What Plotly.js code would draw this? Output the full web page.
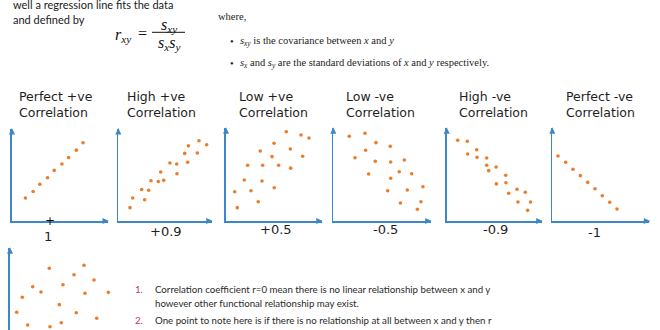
<!DOCTYPE html>
<html>
<head>
<meta charset="utf-8">
<script src="https://cdn.plot.ly/plotly-3.0.1.min.js"></script>
<style>html,body{margin:0;padding:0;background:#fff;}#chart{width:660px;height:330px;}</style>
</head>
<body>
<div id="chart"></div>
<script>
// ---- data (axes 0..10) ----
const panelTitles = ["Perfect +ve<br>Correlation", "High +ve<br>Correlation", "Low +ve<br>Correlation",
                     "Low -ve<br>Correlation", "High -ve<br>Correlation", "Perfect -ve<br>Correlation"];
const panelLabels = ["1", "+0.9", "+0.5", "-0.5", "-0.9", "-1"];

const perfectPosX = [1.4, 2.2, 2.9, 3.7, 4.4, 5.2, 5.9, 6.7, 7.4];
const perfectPosY = [2.5, 3.2, 4.0, 4.7, 5.5, 6.2, 6.9, 7.7, 8.5];

const highPosX = [1.25, 1.54, 2.5, 2.82, 3.25, 3.5, 4.28, 4.54, 4.86, 5.53, 6.25, 6.28, 7.11, 7.43, 7.5, 8.46, 8.64, 9.46];
const highPosY = [1.45, 2.5, 3.42, 2.31, 3.34, 4.38, 4.3, 5.33, 4.42, 6.3, 6.2, 5.14, 7.35, 6.38, 8.17, 7.39, 8.73, 8.29];

const lowPosX = [0.91, 1.18, 1.91, 2.26, 2.61, 3.37, 3.58, 3.76, 3.83, 5.02, 4.81, 5.04, 5.5, 6.3, 6.72, 6.76, 7.84, 8.01, 8.67];
const lowPosY = [3.16, 1.44, 4.42, 6.01, 3.27, 2.08, 7.55, 4.31, 6.01, 8.38, 6.94, 3.59, 6.01, 9.63, 7.77, 5.7, 9.28, 6.99, 8.95];

const lowNegX = [1.64, 3.25, 2.23, 3.32, 4.38, 3.63, 4.31, 5.85, 5.89, 5.89, 5.58, 6.77, 7.29, 7.6, 8.05, 6.89, 9.0, 9.2, 8.63];
const lowNegY = [9.14, 9.46, 6.83, 7.63, 8.45, 5.07, 6.44, 8.06, 6.37, 4.61, 3.27, 5.32, 6.58, 3.34, 5.1, 1.94, 2.08, 3.7, 1.26];

const highNegX = [1.16, 2.17, 2.21, 3.16, 3.19, 4.21, 4.21, 4.42, 5.2, 5.23, 6.21, 6.24, 6.53, 7.4, 7.5, 8.27, 8.83, 8.52];
const highNegY = [8.71, 8.6, 7.23, 7.69, 6.87, 6.8, 6.01, 5.43, 5.83, 4.0, 4.93, 4.13, 2.99, 3.42, 2.05, 3.1, 2.05, 1.15];

const perfectNegX = [0.59, 1.38, 2.13, 2.89, 3.65, 4.4, 5.15, 5.92, 6.67];
const perfectNegY = [7.01, 6.33, 5.58, 4.89, 4.17, 3.48, 2.73, 2.02, 1.29];

const zeroX = [3.93, 7.4, 6.4, 8.4, 2.27, 3.1, 5.3, 7.5, 9.83, 1.23, 4.93, 0.67, 6.63, 8.67, 1.77, 4.0, 5.13];
const zeroY = [7.55, 7.92, 6.77, 6.12, 5.3, 4.65, 5.54, 4.49, 4.61, 4.0, 3.1, 2.17, 2.12, 1.43, 0.61, 0.4, 0.89];

const seriesX = [perfectPosX, highPosX, lowPosX, lowNegX, highNegX, perfectNegX, zeroX];
const seriesY = [perfectPosY, highPosY, lowPosY, lowNegY, highNegY, perfectNegY, zeroY];

// ---- layout helpers (pixel geometry of the slide) ----
const W = 660, H = 330;
const X = p => p / W;
const Y = p => 1 - p / H;
const AXIS = '#3b87c9', DOT = '#ea7d2c';
const panelBox = [
  {xd: [12, 108],      yd: [129, 221]},
  {xd: [118.3, 211.7], yd: [129, 221]},
  {xd: [226, 321.7],   yd: [128.3, 221]},
  {xd: [333.3, 430.7], yd: [128.3, 221]},
  {xd: [446.7, 541.7], yd: [128.3, 221]},
  {xd: [552.3, 649.3], yd: [128.3, 221]},
  {xd: [10, 110],      yd: [248.3, 330]}
];
const titlePos = [[16.7, 105], [125, 105], [237.3, 105], [344, 105], [456.7, 105], [564, 105]];
const labelPos = [[48.3, 236.7], [165.8, 231.7], [275.8, 229], [385.8, 229], [495, 229.7], [594.8, 232.7]];

const traces = [];
const layout = {
  width: W, height: H,
  margin: {l: 0, r: 0, t: 0, b: 0, pad: 0},
  paper_bgcolor: '#fff', plot_bgcolor: 'rgba(0,0,0,0)',
  showlegend: false,
  annotations: [], shapes: []
};

seriesX.forEach((xs, i) => {
  const n = i + 1;
  const xa = 'x' + (n === 1 ? '' : n), ya = 'y' + (n === 1 ? '' : n);
  traces.push({
    type: 'scatter', mode: 'markers', x: xs, y: seriesY[i],
    xaxis: xa, yaxis: ya, cliponaxis: false, hoverinfo: 'skip',
    marker: {size: 3.6, color: DOT}
  });
  const b = panelBox[i];
  const axBase = {showgrid: false, zeroline: false, showticklabels: false, ticks: '',
                  linecolor: AXIS, linewidth: 1.6, range: [0, 10], fixedrange: true};
  layout['xaxis' + (n === 1 ? '' : n)] = Object.assign({}, axBase, {
    domain: [X(b.xd[0]), X(b.xd[1])], anchor: ya, showline: i < 6
  });
  layout['yaxis' + (n === 1 ? '' : n)] = Object.assign({}, axBase, {
    domain: [Y(b.yd[1]), Y(b.yd[0])], anchor: xa, showline: true
  });
  // arrow heads drawn as small filled triangles (paper coordinates)
  const hw = 3, hl = 6.5;
  const x0 = b.xd[0], yTop = b.yd[0] - 1;
  layout.shapes.push({type: 'path', xref: 'paper', yref: 'paper', fillcolor: AXIS, line: {width: 0},
    path: `M ${X(x0)} ${Y(yTop)} L ${X(x0 - hw)} ${Y(yTop + hl)} L ${X(x0 + hw)} ${Y(yTop + hl)} Z`});
  if (i < 6) {
    const xr = b.xd[1] + 1, yb = b.yd[1];
    layout.shapes.push({type: 'path', xref: 'paper', yref: 'paper', fillcolor: AXIS, line: {width: 0},
      path: `M ${X(xr)} ${Y(yb)} L ${X(xr - hl)} ${Y(yb - hw)} L ${X(xr - hl)} ${Y(yb + hw)} Z`});
  }
});

const TFONT = {family: 'DejaVu Sans, Verdana, sans-serif', size: 12.5, color: '#1e1e1e'};
panelTitles.forEach((t, i) => {
  layout.annotations.push({text: t, xref: 'paper', yref: 'paper', x: X(titlePos[i][0]), y: Y(titlePos[i][1]),
    xanchor: 'left', yanchor: 'middle', align: 'left', showarrow: false, font: TFONT});
});
panelLabels.forEach((t, i) => {
  layout.annotations.push({text: t, xref: 'paper', yref: 'paper', x: X(labelPos[i][0]), y: Y(labelPos[i][1]),
    xanchor: 'center', yanchor: 'middle', showarrow: false,
    font: {family: 'DejaVu Sans, Verdana, sans-serif', size: 13, color: '#1e1e1e'}});
});
// small cross on first x axis
layout.annotations.push({text: '+', xref: 'paper', yref: 'paper', x: X(49.5), y: Y(221), xanchor: 'center',
  yanchor: 'middle', showarrow: false, font: {family: 'DejaVu Sans', size: 12, color: '#111'}});

// ---- slide text ----
const BODY = 'Lato, sans-serif';
const SERIF = 'Liberation Serif, Times New Roman, serif';
function txt(t, x, y, opt) {
  layout.annotations.push(Object.assign({text: t, xref: 'paper', yref: 'paper', x: X(x), y: Y(y),
    xanchor: 'left', yanchor: 'middle', align: 'left', showarrow: false,
    font: {family: BODY, size: 11, color: '#1a1a1a'}}, opt || {}));
}
txt('well a regression line fits the data', 11, 4.5);
txt('and defined by', 11, 20);

// formula
const FM = {family: SERIF, size: 16, color: '#111'};
txt('<i>r</i><sub><i>xy</i></sub>', 122.5, 35, {xanchor: 'center', font: FM});
txt('=', 142.5, 33.5, {xanchor: 'center', font: FM});
txt('<i>s</i><sub><i>xy</i></sub>', 168.5, 25.5, {xanchor: 'center', font: FM});
txt('<i>s</i><sub><i>x</i></sub><i>s</i><sub><i>y</i></sub>', 168.5, 43.5, {xanchor: 'center', font: FM});
layout.shapes.push({type: 'line', xref: 'paper', yref: 'paper', x0: X(152), x1: X(185), y0: Y(32.3), y1: Y(32.3),
  line: {color: '#111', width: 1}});

const SM = {family: SERIF, size: 10.5, color: '#222'};
txt('where,', 216, 16.7, {font: SM});
txt('•', 231.7, 41, {xanchor: 'center', font: SM});
txt('<i>s</i><sub><i>xy</i></sub> is the covariance between <i>x</i> and <i>y</i>', 237.7, 41, {font: SM});
txt('•', 231.7, 63.3, {xanchor: 'center', font: SM});
txt('<i>s</i><sub><i>x</i></sub> and <i>s</i><sub><i>y</i></sub> are the standard deviations of <i>x</i> and <i>y</i> respectively.', 237.7, 63.3, {font: SM});

// numbered notes
const NUM = {family: BODY, size: 9.7, color: '#c9336c'};
const NOTE = {family: BODY, size: 9.7, color: '#2a2a2a'};
txt('1.', 133.3, 289, {font: NUM});
txt('Correlation coefficient r=0 mean there is no linear relationship between x and y', 153.3, 289, {font: NOTE});
txt('however other functional relationship may exist.', 153.3, 303.3, {font: NOTE});
txt('2.', 133.3, 320, {font: NUM});
txt('One point to note here is if there is no relationship at all between x and y then r', 153.3, 320, {font: NOTE});

Plotly.newPlot('chart', traces, layout, {staticPlot: true, displayModeBar: false});
</script>
</body>
</html>
